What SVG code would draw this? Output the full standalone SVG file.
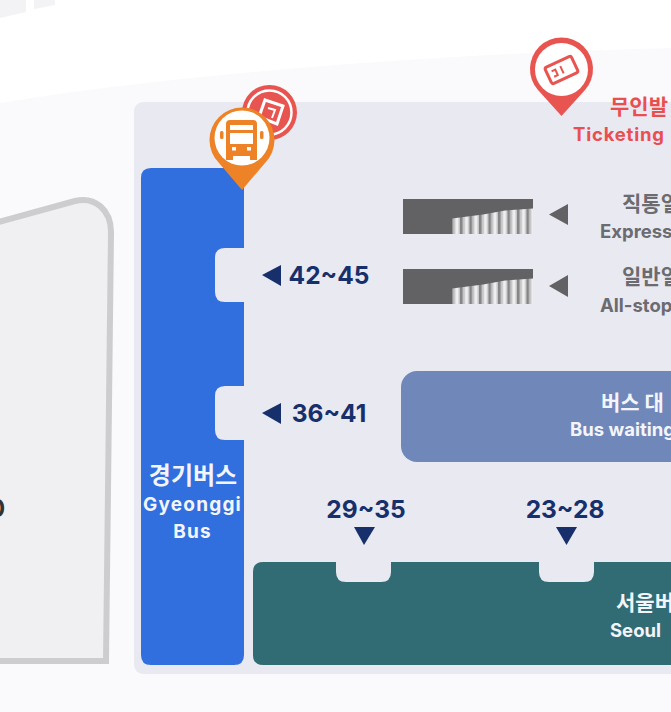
<svg xmlns="http://www.w3.org/2000/svg" width="671" height="712" viewBox="0 0 671 712">
<style>
text{font-family:"Inter","Noto Sans CJK KR",sans-serif;font-weight:700}
.ko{font-family:"Noto Sans CJK KR",sans-serif;font-size:21px}
.w{fill:#f3f5fb;text-anchor:middle}
.g{fill:#6b6b70}
.gl{fill:#6b6b70;font-size:18.500px}
.n{fill:#17306b;font-size:24.500px;text-anchor:middle}
.t{fill:#17306b}
.st{fill:#626265}
</style>
<defs>
<pattern id="bars" patternUnits="userSpaceOnUse" x="0" y="0" width="9.500" height="40"><rect width="9.500" height="40" fill="#c6c6c8"/><rect x="0" width="2.500" height="40" fill="#858588"/><rect x="5" width="3" height="40" fill="#efefef"/></pattern>
<g id="stairs"><rect class="st" x="0" y="0" width="130" height="35"/><path d="M49 35V19.500L80 15.500L102 11.500L130 9.500V35Z" fill="url(#bars)"/></g>
</defs>
<rect width="671" height="712" fill="#fafafc"/>
<path d="M0 103C150 78 400 55 671 48V0H0Z" fill="#ffffff"/>
<path d="M0 18L26 12V0H0ZM34 9L55 5V0H34Z" fill="#f3f3f6"/>
<path d="M-5 223L75 201C95 196 111 210 111 232L106 661H-5Z" fill="#f0f0f2" stroke="#cdcdd0" stroke-width="6"/>
<text x="-11" y="517" font-size="24" fill="#333">0</text>
<rect x="134" y="102" width="560" height="572" rx="9" fill="#e9e9f2"/>
<g id="gyeonggi-bus">
<path d="M151 168H244V248H225Q215 248 215 258V292Q215 302 225 302H244V386H225Q215 386 215 396V430Q215 440 225 440H244V655Q244 665 234 665H151Q141 665 141 655V178Q141 168 151 168Z" fill="#316fdf"/>
<text class="w ko" x="193" y="484" style="font-size:24px">경기버스</text>
<text class="w" x="192.500" y="511" font-size="19" letter-spacing="1.200">Gyeonggi</text>
<text class="w" x="192.500" y="538" font-size="19" letter-spacing="1.200">Bus</text>
</g>
<g id="gate-42-45"><path class="t" d="M262 275L281 265V286Z"/><text class="n" x="329" y="284">42~45</text></g>
<g id="gate-36-41"><path class="t" d="M262 413L281 403V424Z"/><text class="n" x="329" y="422">36~41</text></g>
<g id="gate-29-35"><text class="n" x="366" y="518">29~35</text><path class="t" d="M354 527H375L364 545Z"/></g>
<g id="gate-23-28"><text class="n" x="565" y="518">23~28</text><path class="t" d="M556 527H577L566.500 545Z"/></g>
<g id="express">
<use href="#stairs" x="403" y="199"/>
<path d="M549 214.500L568 204V225Z" fill="#626265"/>
<text class="g ko" x="622" y="211">직통열</text>
<text class="gl" x="600" y="238">Express</text>
</g>
<g id="all-stop">
<use href="#stairs" x="403" y="269"/>
<path d="M549 286L568 275V297Z" fill="#626265"/>
<text class="g ko" x="622" y="284">일반열</text>
<text class="gl" x="600" y="312">All-stop</text>
</g>
<g id="bus-waiting">
<rect x="401" y="371" width="300" height="91" rx="16" fill="#7087b9"/>
<text class="ko" x="601" y="410" fill="#f3f5fb">버스 대</text>
<text x="570" y="436" font-size="18.500" fill="#f3f5fb">Bus waiting</text>
</g>
<g id="seoul-bus">
<path d="M263 562H336V572Q336 582 346 582H381Q391 582 391 572V562H539V572Q539 582 549 582H584Q594 582 594 572V562H690V665H263Q253 665 253 655V572Q253 562 263 562Z" fill="#316c74"/>
<text class="ko" x="616" y="610" fill="#f3f5fb">서울버</text>
<text x="610" y="637" font-size="18.500" fill="#f3f5fb">Seoul</text>
</g>
<g id="ticketing-pin-back">
<circle cx="269.500" cy="112.500" r="27.500" fill="#e85450"/>
<circle cx="269.500" cy="112.500" r="22" fill="none" stroke="#fff" stroke-width="2.500"/>
<path d="M265 100L283 106L277 124L259 117Z" fill="none" stroke="#fff" stroke-width="3"/>
<path d="M268 108L275 110L272 118" fill="none" stroke="#fff" stroke-width="2"/>
</g>
<g id="gyeonggi-pin">
<path d="M242 190L219 163A32.500 32.500 0 1 1 265 163Z" fill="#ee8226"/>
<circle cx="242" cy="138" r="27.500" fill="#fff"/>
<path d="M226 124Q226 120 230 120H253Q257 120 257 124V156H226Z" fill="#ee8226"/>
<rect x="230" y="125" width="23" height="5" fill="#fff"/><rect x="230" y="133" width="23" height="11" fill="#fff"/>
<rect x="232" y="147" width="4" height="3.500" fill="#fff"/><rect x="247" y="147" width="4" height="3.500" fill="#fff"/>
<rect x="220" y="131" width="3.500" height="8" rx="1.500" fill="#ee8226"/><rect x="260" y="131" width="3.500" height="8" rx="1.500" fill="#ee8226"/>
<rect x="226" y="155" width="7" height="5" fill="#ee8226"/><rect x="250" y="155" width="7" height="5" fill="#ee8226"/>
</g>
<g id="ticketing">
<path d="M561.500 116L538 90A31.500 31.500 0 1 1 585 90Z" fill="#e85450"/>
<circle cx="561.500" cy="69.500" r="26.500" fill="#fff"/>
<g transform="rotate(-25 561.500 70)" fill="none" stroke="#e85450"><rect x="547" y="61" width="29" height="18" rx="2" stroke-width="3"/><path d="M552 67H556V73H552M562 66V74" stroke-width="2"/></g>
<text class="ko" x="610" y="114" fill="#ea4f50">무인발</text>
<text x="573" y="141" font-size="18.500" letter-spacing="0.800" fill="#ea4f50">Ticketing</text>
</g>
</svg>
